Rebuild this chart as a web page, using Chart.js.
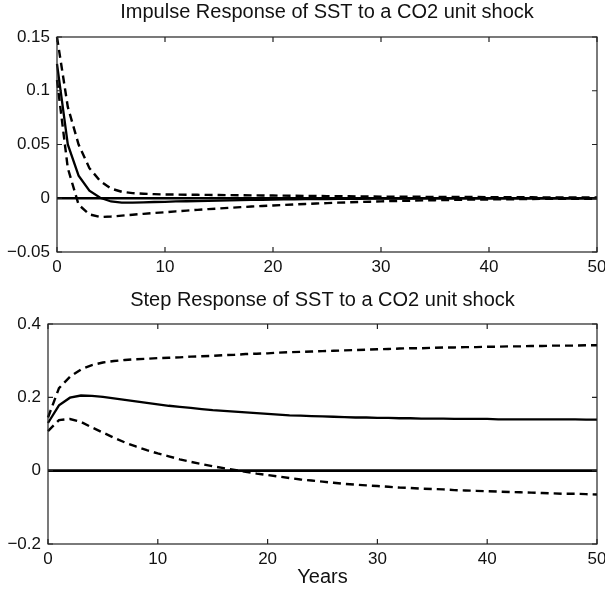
<!DOCTYPE html>
<html>
<head>
<meta charset="utf-8">
<script src="https://cdn.jsdelivr.net/npm/chart.js@4/dist/chart.umd.min.js"></script>
<style>
  html, body { margin: 0; padding: 0; background: #fff; }
  body { width: 605px; height: 592px; position: relative; overflow: hidden; }
  .box { position: absolute; left: 0; width: 605px; }
  #b1 { top: 0; height: 286px; }
  #b2 { top: 286px; height: 306px; }
</style>
</head>
<body>
<div class="box" id="b1"><canvas id="c1"></canvas></div>
<div class="box" id="b2"><canvas id="c2"></canvas></div>
<script>
// ---- data ----
const years = [0,1,2,3,4,5,6,7,8,9,10,11,12,13,14,15,16,17,18,19,20,21,22,23,24,25,26,27,28,29,30,31,32,33,34,35,36,37,38,39,40,41,42,43,44,45,46,47,48,49,50];

const impulseTitle = "Impulse Response of SST to a CO2 unit shock";
const stepTitle = "Step Response of SST to a CO2 unit shock";
const xAxisLabel = "Years";

const impulseMean = [0.125,0.05,0.021,0.007,0.0005,-0.003,-0.004,-0.004,-0.0038,-0.0035,-0.0033,-0.003,-0.0028,-0.0026,-0.0024,-0.0022,-0.002,-0.0018,-0.0016,-0.0014,-0.0012,-0.0011,-0.001,-0.0009,-0.0008,-0.0007,-0.0006,-0.0005,-0.0005,-0.0004,-0.0004,-0.0003,-0.0003,-0.0003,-0.0002,-0.0002,-0.0002,-0.0002,-0.0001,-0.0001,-0.0001,-0.0001,-0.0001,-0.0001,0,0,0,0,0,0,0];
const impulseUpper = [0.15,0.085,0.05,0.028,0.016,0.009,0.006,0.0048,0.0042,0.0038,0.0035,0.0034,0.0033,0.0032,0.0031,0.003,0.0029,0.0028,0.0027,0.0026,0.0025,0.0024,0.0023,0.0022,0.0021,0.002,0.0019,0.0018,0.0017,0.0016,0.0015,0.0015,0.0014,0.0014,0.0013,0.0013,0.0012,0.0012,0.0011,0.0011,0.001,0.001,0.0009,0.0009,0.0009,0.0008,0.0008,0.0008,0.0007,0.0007,0.0007];
const impulseLower = [0.11,0.028,-0.006,-0.015,-0.0175,-0.017,-0.0162,-0.0153,-0.0145,-0.0137,-0.013,-0.0122,-0.0115,-0.0108,-0.0101,-0.0095,-0.0089,-0.0083,-0.0077,-0.0072,-0.0067,-0.0062,-0.0057,-0.0053,-0.0049,-0.0045,-0.0041,-0.0038,-0.0035,-0.0032,-0.0029,-0.0026,-0.0024,-0.0022,-0.002,-0.0018,-0.0016,-0.0015,-0.0013,-0.0012,-0.0011,-0.001,-0.0009,-0.0008,-0.0007,-0.0006,-0.0006,-0.0005,-0.0005,-0.0004,-0.0004];

const stepMean = [0.13,0.178,0.199,0.205,0.204,0.201,0.197,0.193,0.189,0.185,0.181,0.177,0.174,0.171,0.168,0.165,0.163,0.161,0.159,0.157,0.155,0.153,0.151,0.15,0.149,0.148,0.147,0.146,0.145,0.145,0.144,0.144,0.143,0.143,0.142,0.142,0.142,0.141,0.141,0.141,0.141,0.14,0.14,0.14,0.14,0.14,0.14,0.14,0.14,0.139,0.139];
const stepUpper = [0.145,0.225,0.256,0.276,0.288,0.295,0.299,0.302,0.304,0.305,0.307,0.308,0.309,0.311,0.312,0.313,0.315,0.316,0.318,0.319,0.32,0.322,0.323,0.324,0.325,0.326,0.327,0.328,0.329,0.33,0.331,0.332,0.333,0.334,0.334,0.335,0.336,0.336,0.337,0.337,0.338,0.338,0.339,0.339,0.34,0.34,0.341,0.341,0.341,0.342,0.342];
const stepLower = [0.108,0.138,0.141,0.133,0.118,0.104,0.09,0.077,0.066,0.056,0.047,0.039,0.031,0.024,0.018,0.012,0.007,0.002,-0.003,-0.008,-0.012,-0.016,-0.02,-0.024,-0.027,-0.03,-0.033,-0.036,-0.038,-0.04,-0.042,-0.044,-0.046,-0.047,-0.049,-0.05,-0.051,-0.053,-0.054,-0.055,-0.056,-0.057,-0.058,-0.059,-0.06,-0.061,-0.062,-0.063,-0.063,-0.064,-0.065];
const zeroLine = years.map(() => 0);

const xTicks = [0,10,20,30,40,50];
const impulseYTicks = [-0.05,0,0.05,0.1,0.15];
const stepYTicks = [-0.2,0,0.2,0.4];

// ---- helpers ----
const FONT = "'Liberation Sans', Arial, Helvetica, sans-serif";
const pts = arr => years.map((t, i) => ({x: t, y: arr[i]}));
const fmt = v => { const r = Math.round(v * 100) / 100; return (r < 0 ? '\u2212' : '') + String(Math.abs(r)); };

const framePlugin = {
  id: 'frame',
  afterDatasetsDraw(chart) {
    const {ctx, chartArea: a, scales: {x, y}} = chart;
    ctx.save();
    ctx.strokeStyle = '#222';
    ctx.lineWidth = 1.2;
    ctx.strokeRect(a.left, a.top, a.right - a.left, a.bottom - a.top);
    const tl = 5;
    ctx.beginPath();
    x.ticks.forEach(t => {
      const px = x.getPixelForValue(t.value);
      ctx.moveTo(px, a.bottom); ctx.lineTo(px, a.bottom - tl);
      ctx.moveTo(px, a.top); ctx.lineTo(px, a.top + tl);
    });
    y.ticks.forEach(t => {
      const py = y.getPixelForValue(t.value);
      ctx.moveTo(a.left, py); ctx.lineTo(a.left + tl, py);
      ctx.moveTo(a.right, py); ctx.lineTo(a.right - tl, py);
    });
    ctx.stroke();
    ctx.restore();
  }
};

function makeChart(id, cfg) {
  const datasets = [
    {data: pts(zeroLine), borderColor: '#000', borderWidth: 2.6},
    {data: pts(cfg.upper), borderColor: '#000', borderWidth: 2.4, borderDash: [8, 5]},
    {data: pts(cfg.lower), borderColor: '#000', borderWidth: 2.4, borderDash: [8, 5]},
    {data: pts(cfg.mean), borderColor: '#000', borderWidth: 2.3}
  ].map(d => Object.assign(d, {pointRadius: 0, tension: 0, fill: false, clip: false}));

  return new Chart(document.getElementById(id), {
    type: 'line',
    data: {datasets},
    options: {
      responsive: true,
      maintainAspectRatio: false,
      animation: false,
      events: [],
      layout: {padding: {left: 0, right: 8, top: 0, bottom: 0}},
      plugins: {
        legend: {display: false},
        tooltip: {enabled: false},
        title: {
          display: true, text: cfg.title, fullSize: false, color: '#111',
          font: {family: FONT, size: 20, weight: 'normal', lineHeight: 1.2},
          padding: {top: cfg.titleTop, bottom: cfg.titleBottom}
        }
      },
      scales: {
        x: {
          type: 'linear', min: 0, max: 50,
          afterBuildTicks: s => { s.ticks = xTicks.map(v => ({value: v})); },
          ticks: {color: '#111', font: {family: FONT, size: 17}, padding: 5, maxRotation: 0, autoSkip: false,
                  callback: v => String(v)},
          grid: {display: false, drawTicks: false},
          border: {display: false},
          title: cfg.xTitle ? {display: true, text: cfg.xTitle, color: '#111',
                  font: {family: FONT, size: 20, lineHeight: 1.2}, padding: {top: 0, bottom: 3}} : {display: false},
          afterFit: s => { s.height = cfg.xHeight; s.paddingLeft = 0; s.paddingRight = 0; }
        },
        y: {
          type: 'linear', min: cfg.ymin, max: cfg.ymax,
          afterBuildTicks: s => { s.ticks = cfg.yTicks.map(v => ({value: v})); },
          ticks: {color: '#111', font: {family: FONT, size: 17}, padding: 7, autoSkip: false, callback: v => fmt(v)},
          grid: {display: false, drawTicks: false},
          border: {display: false},
          afterFit: s => { s.width = cfg.yWidth; s.paddingTop = 0; s.paddingBottom = 0; }
        }
      }
    },
    plugins: [framePlugin]
  });
}

makeChart('c1', {
  title: impulseTitle, titleTop: 0, titleBottom: 13,
  upper: impulseUpper, lower: impulseLower, mean: impulseMean,
  ymin: -0.05, ymax: 0.15, yTicks: impulseYTicks,
  yWidth: 57, xHeight: 34, xTitle: null
});
makeChart('c2', {
  title: stepTitle, titleTop: 2, titleBottom: 12,
  upper: stepUpper, lower: stepLower, mean: stepMean,
  ymin: -0.2, ymax: 0.4, yTicks: stepYTicks,
  yWidth: 48, xHeight: 48, xTitle: xAxisLabel
});
</script>
</body>
</html>
